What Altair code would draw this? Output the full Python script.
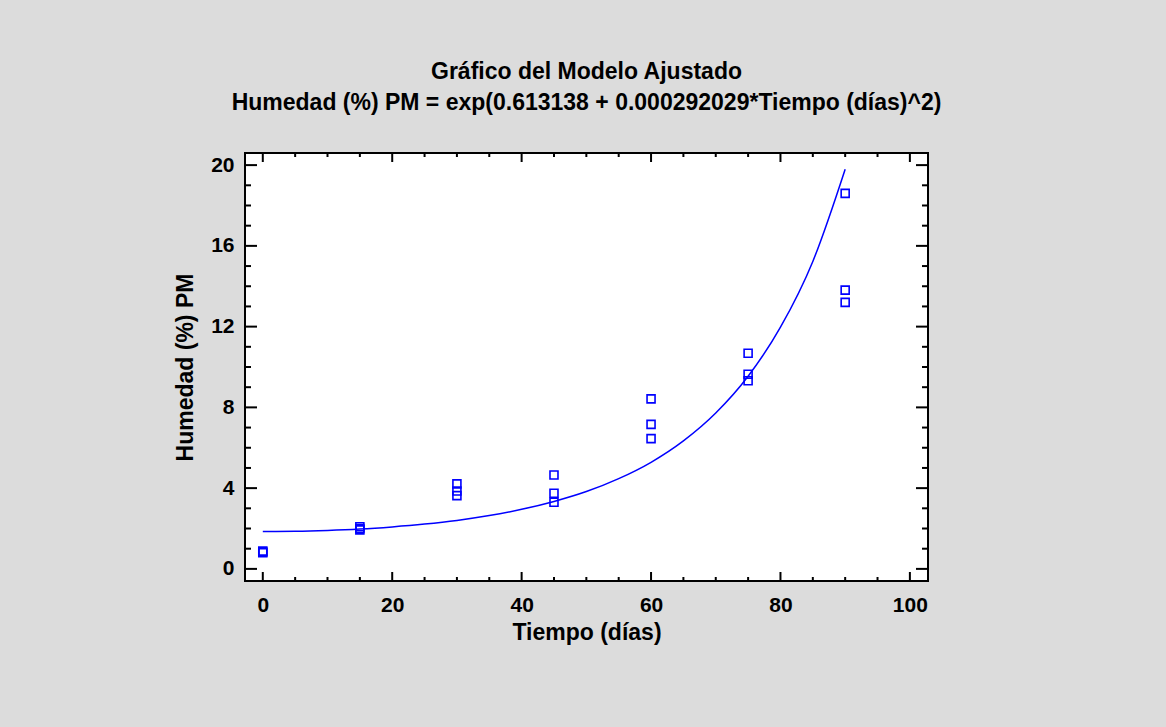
import altair as alt
import pandas as pd

tiempo_obs = [0, 0, 0, 15, 15, 15, 30, 30, 30, 45, 45, 45, 60, 60, 60, 75, 75, 75, 90, 90, 90]
humedad_obs = [0.80, 0.84, 0.88, 1.93, 2.00, 2.09, 3.63, 3.86, 4.21, 3.30, 3.75, 4.65,
               6.45, 7.16, 8.42, 9.32, 9.64, 10.68, 13.20, 13.81, 18.60]

# Fitted curve
tiempo_fit = [0, 5, 10, 15, 20, 25, 30, 35, 40, 45, 50, 55, 60, 65, 70, 75, 80, 85, 90]
humedad_fit = [1.85, 1.86, 1.90, 1.97, 2.08, 2.22, 2.40, 2.64, 2.95, 3.34, 3.83, 4.47,
               5.28, 6.34, 7.72, 9.54, 11.97, 15.23, 19.80]

x_major = [0, 20, 40, 60, 80, 100]
x_minor = [5, 10, 15, 25, 30, 35, 45, 50, 55, 65, 70, 75, 85, 90, 95]
y_major = [0, 4, 8, 12, 16, 20]
y_minor = [1, 2, 3, 5, 6, 7, 9, 10, 11, 13, 14, 15, 17, 18, 19]

W, H = 683, 428
BLUE = "#0000FF"

obs = pd.DataFrame({"t": tiempo_obs, "h": humedad_obs})
fit = pd.DataFrame({"t": tiempo_fit, "h": humedad_fit})

xs = alt.Scale(domain=[-2.75, 102.8], nice=False, zero=False)
ys = alt.Scale(domain=[-0.6, 20.6], nice=False, zero=False)

x_axis = alt.Axis(values=x_major, title="Tiempo (días)", format="d")
y_axis = alt.Axis(values=y_major, title="Humedad (%) PM", format="d")

line = alt.Chart(fit).mark_line(color=BLUE, strokeWidth=1.5, interpolate="monotone").encode(
    x=alt.X("t:Q", scale=xs, axis=x_axis),
    y=alt.Y("h:Q", scale=ys, axis=y_axis),
)

points = alt.Chart(obs).mark_point(shape="square", filled=False, color=BLUE,
                                   size=64, strokeWidth=1.6, opacity=1).encode(
    x=alt.X("t:Q", scale=xs, axis=x_axis),
    y=alt.Y("h:Q", scale=ys, axis=y_axis),
)


def xticks(vals, length):
    d = pd.DataFrame({"t": vals})
    base = alt.Chart(d).mark_rule(color="black", strokeWidth=2)
    bottom = base.encode(x=alt.X("t:Q", scale=xs, axis=x_axis),
                         y=alt.value(H), y2=alt.value(H - length))
    top = base.encode(x=alt.X("t:Q", scale=xs, axis=x_axis),
                      y=alt.value(0), y2=alt.value(length))
    return [bottom, top]


def yticks(vals, length):
    d = pd.DataFrame({"h": vals})
    base = alt.Chart(d).mark_rule(color="black", strokeWidth=2)
    left = base.encode(y=alt.Y("h:Q", scale=ys, axis=y_axis),
                       x=alt.value(0), x2=alt.value(length))
    right = base.encode(y=alt.Y("h:Q", scale=ys, axis=y_axis),
                        x=alt.value(W), x2=alt.value(W - length))
    return [left, right]


layers = [line, points] + xticks(x_major, 9) + xticks(x_minor, 4) + yticks(y_major, 12) + yticks(y_minor, 6)

chart = alt.layer(*layers).properties(
    width=W,
    height=H,
    background="#DCDCDC",
    autosize=alt.AutoSizeParams(type="none"),
    padding={"left": 245, "top": 153, "right": 238, "bottom": 146},
    title=alt.TitleParams(
        text=["Gráfico del Modelo Ajustado",
              "Humedad (%) PM = exp(0.613138 + 0.000292029*Tiempo (días)^2)"],
        font="Liberation Sans", fontSize=23, fontWeight="bold", color="black",
        anchor="middle", lineHeight=31, offset=37,
    ),
).configure_view(
    stroke="black", strokeWidth=2, fill="white"
).configure_axis(
    domain=False, ticks=False, tickSize=0, grid=False,
    labelFont="Liberation Sans", labelFontSize=21, labelFontWeight="bold", labelColor="black",
    titleFont="Liberation Sans", titleFontSize=23, titleFontWeight="bold", titleColor="black",
).configure_axisX(
    labelPadding=13, titlePadding=6,
).configure_axisY(
    labelPadding=11, titlePadding=13,
)

chart.save("out.html", embed_options={"renderer": "svg", "actions": False})
